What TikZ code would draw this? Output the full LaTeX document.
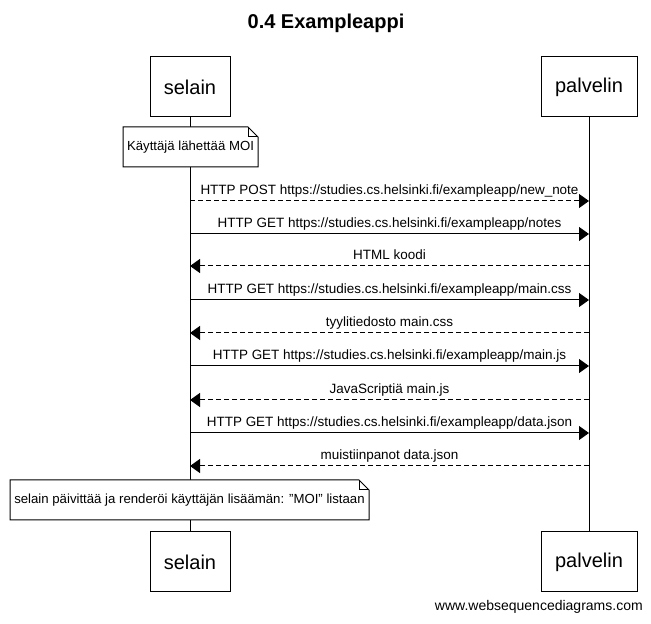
\documentclass[tikz,border=0pt]{standalone}
\usepackage{fontspec}
\setmainfont{Liberation Sans}
\usetikzlibrary{arrows.meta}
\begin{document}
\begin{tikzpicture}[x=0.75pt,y=-0.75pt,
  part/.style={draw=black,line width=0.75pt,fill=white,minimum height=45pt,inner sep=0pt,font=\fontsize{15}{18}\selectfont},
  msg/.style={line width=0.75pt,-{Triangle[length=7.5pt,width=10.5pt]}},
  ret/.style={msg,dash pattern=on 3.5pt off 2.5pt},
  lbl/.style={font=\fontsize{10.1}{12}\selectfont,inner sep=0pt,anchor=base},
  notetext/.style={font=\fontsize{9.9}{12}\selectfont,inner sep=0pt},
  life/.style={line width=0.75pt}
]
\useasboundingbox (0,0) rectangle (651,624);
\node[font=\bfseries\fontsize{15}{18}\selectfont] (title) at (326,23) {0.4 Exampleappi};
% participants
\node[part,minimum width=60pt] (st) at (190,87) {selain};
\node[part,minimum width=72pt] (pt) at (589,87) {palvelin};
\node[part,minimum width=60pt] (sb) at (190,562) {selain};
\node[part,minimum width=72pt] (pb) at (589,562) {palvelin};
\draw[life] (st.south) -- (sb.north);
\draw[life] (pt.south) -- (pb.north);
% note 1
\draw[line width=0.75pt,fill=white] (123,127) -- (248,127) -- (258,137) -- (258,167) -- (123,167) -- cycle;
\draw[line width=0.75pt] (248,127) -- (248,137) -- (258,137);
\node[notetext] (n1) at (190.5,147) {Käyttäjä lähettää MOI};
% message points
\foreach \i/\y in {1/201,2/234,3/266,4/300,5/333,6/366,7/400,8/433,9/466}{
  \coordinate (s\i) at (190,\y);
  \coordinate (p\i) at (589,\y);
}
\draw[ret] (s1) -- node[lbl,yshift=5.2pt] {HTTP POST https://studies.cs.helsinki.fi/exampleapp/new\_note} (p1);
\draw[msg] (s2) -- node[lbl,yshift=5.2pt] {HTTP GET https://studies.cs.helsinki.fi/exampleapp/notes} (p2);
\draw[ret] (p3) -- node[lbl,yshift=5.2pt] {HTML koodi} (s3);
\draw[msg] (s4) -- node[lbl,yshift=5.2pt] {HTTP GET https://studies.cs.helsinki.fi/exampleapp/main.css} (p4);
\draw[ret] (p5) -- node[lbl,yshift=5.2pt] {tyylitiedosto main.css} (s5);
\draw[msg] (s6) -- node[lbl,yshift=5.2pt] {HTTP GET https://studies.cs.helsinki.fi/exampleapp/main.js} (p6);
\draw[ret] (p7) -- node[lbl,yshift=5.2pt] {JavaScriptiä main.js} (s7);
\draw[msg] (s8) -- node[lbl,yshift=5.2pt] {HTTP GET https://studies.cs.helsinki.fi/exampleapp/data.json} (p8);
\draw[ret] (p9) -- node[lbl,yshift=5.2pt] {muistiinpanot data.json} (s9);
% note 2
\draw[line width=0.75pt,fill=white] (10,480) -- (359,480) -- (369,490) -- (369,520) -- (10,520) -- cycle;
\draw[line width=0.75pt] (359,480) -- (359,490) -- (369,490);
\node[notetext] (n2) at (189.5,500) {selain päivittää ja renderöi käyttäjän lisäämän: \symbol{34}MOI\symbol{34} listaan};
% footer
\node[font=\fontsize{10.5}{12}\selectfont,anchor=east,inner sep=0pt] (foot) at (643,607) {www.websequencediagrams.com};
\end{tikzpicture}
\end{document}
